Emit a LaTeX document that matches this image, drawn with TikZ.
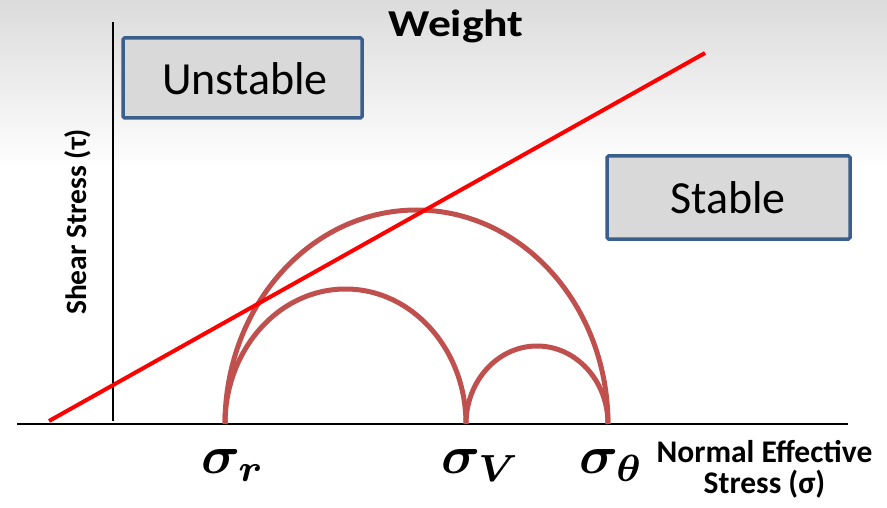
\documentclass[tikz,border=0pt]{standalone}
\usepackage{fontspec}
\usepackage{amsmath}
\usepackage{bm}
\usepackage{graphicx}
\setmainfont{Carlito}
\definecolor{arcred}{HTML}{C0504D}
\definecolor{boxblue}{HTML}{3A5F8C}
\definecolor{boxgray}{HTML}{D9D9D9}
\begin{document}
\begin{tikzpicture}[x=1pt,y=-1pt,
  mohr/.style={draw=arcred,line width=5pt},
  regionbox/.style={draw=boxblue,fill=boxgray,line width=3.5pt,rounded corners=1.5pt,
    minimum width=#1,inner sep=0pt},
  regiontext/.style={font=\fontsize{46}{50}\selectfont},
  axislabel/.style={font=\fontsize{31.5}{34}\selectfont\bfseries,align=center},
  sig/.style={anchor=base west,inner sep=0pt}]
\useasboundingbox (0,0) rectangle (887,508);
\shade[top color=black!14,bottom color=white] (0,0) rectangle (887,170);
% boxes
\node[regionbox=239pt,minimum height=80pt] (unst) at (242.5,78) {};
\node[regiontext,anchor=base] (unsttxt) at (245,95) {Unstable};
\node[regionbox=243pt,minimum height=83pt] (stab) at (728.5,197.5) {};
\node[regiontext,anchor=base] (stabtxt) at (728,214) {Stable};
% title
\node[font=\fontsize{38}{40}\selectfont\bfseries,anchor=base] (weight) at (456,37) {\scalebox{1.2}[1]{Weight}};
% axes
\coordinate (xa) at (17,424);
\coordinate (xb) at (848,424);
\coordinate (ya) at (113,421);
\coordinate (yb) at (113,22);
\draw[line width=2pt] (xa) -- (xb);
\draw[line width=1.5pt] (ya) -- (yb);
% Mohr circles
\draw[mohr] (225,424) arc[start angle=180,end angle=360,x radius=191.5,y radius=214];
\draw[mohr] (225,424) arc[start angle=180,end angle=360,x radius=120.5,y radius=135];
\draw[mohr] (466,424) arc[start angle=180,end angle=360,x radius=71,y radius=78];
% failure line
\coordinate (fa) at (49,421);
\coordinate (fb) at (705,53);
\draw[red,line width=4pt] (fa) -- (fb);
% labels
\node[font=\fontsize{29.5}{32}\selectfont\bfseries,rotate=90,anchor=base] (ylab) at (86,222) {Shear Stress (τ)};
\node[axislabel,anchor=base] (xlab1) at (764.5,462) {Normal Effective};
\node[axislabel,anchor=base] (xlab2) at (764.5,493) {Stress (σ)};
\node[sig] (sr) at (201,473) {\scalebox{5.4}{$\bm{\sigma_r}$}};
\node[sig] (sv) at (441,473) {\scalebox{5.4}{$\bm{\sigma_V}$}};
\node[sig] (st) at (579,473) {\scalebox{5.4}{$\bm{\sigma_\theta}$}};
\end{tikzpicture}
\end{document}
